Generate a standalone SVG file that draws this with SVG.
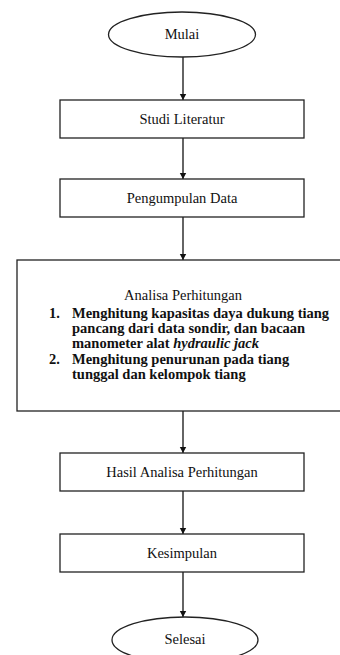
<svg xmlns="http://www.w3.org/2000/svg" width="340" height="655" viewBox="0 0 340 655">
<style>
.shape{fill:#fff;stroke:#222;stroke-width:1.3}
.t{font-family:"Liberation Serif","Times New Roman",serif;font-size:14.5px;fill:#111;text-anchor:middle}
.l{font-family:"Liberation Serif","Times New Roman",serif;font-size:14.5px;fill:#111;font-weight:bold}
.c{stroke:#111;stroke-width:1.3;fill:none;marker-end:url(#ah)}
</style>
<defs>
<marker id="ah" markerWidth="8" markerHeight="8" refX="6" refY="4" orient="auto" markerUnits="userSpaceOnUse">
<path d="M0,0.8 L6,4 L0,7.2 Z" fill="#111"/>
</marker>
</defs>
<rect width="340" height="655" fill="#fff"/>
<g id="connectors">
<line class="c" x1="183" y1="57" x2="183" y2="100"/>
<line class="c" x1="183" y1="138" x2="183" y2="179"/>
<line class="c" x1="183" y1="217" x2="183" y2="260"/>
<line class="c" x1="183" y1="411" x2="183" y2="453"/>
<line class="c" x1="183" y1="491" x2="183" y2="534"/>
<line class="c" x1="183" y1="572" x2="183" y2="617"/>
</g>
<g id="mulai">
<ellipse class="shape" cx="182" cy="34.5" rx="73.5" ry="22.5"/>
<text class="t" x="182" y="39">Mulai</text>
</g>
<g id="studi">
<rect class="shape" x="60" y="100" width="244" height="38"/>
<text class="t" x="182" y="124">Studi Literatur</text>
</g>
<g id="pengumpulan">
<rect class="shape" x="60" y="179" width="244" height="38"/>
<text class="t" x="182" y="203">Pengumpulan Data</text>
</g>
<g id="analisa">
<rect class="shape" x="17" y="260" width="340" height="151"/>
<text class="t" x="183" y="300">Analisa Perhitungan</text>
<text class="l" x="49" y="318">1.</text>
<text class="l" x="72" y="318">Menghitung kapasitas daya dukung tiang</text>
<text class="l" x="72" y="333">pancang dari data sondir, dan bacaan</text>
<text class="l" x="72" y="348">manometer alat <tspan font-style="italic">hydraulic jack</tspan></text>
<text class="l" x="49" y="364">2.</text>
<text class="l" x="72" y="364">Menghitung penurunan pada tiang</text>
<text class="l" x="72" y="379">tunggal dan kelompok tiang</text>
</g>
<g id="hasil">
<rect class="shape" x="60" y="453" width="244" height="38"/>
<text class="t" x="182" y="477">Hasil Analisa Perhitungan</text>
</g>
<g id="kesimpulan">
<rect class="shape" x="60" y="534" width="244" height="38"/>
<text class="t" x="182" y="558">Kesimpulan</text>
</g>
<g id="selesai">
<ellipse class="shape" cx="185" cy="640" rx="73" ry="23"/>
<text class="t" x="185" y="644">Selesai</text>
</g>
</svg>
